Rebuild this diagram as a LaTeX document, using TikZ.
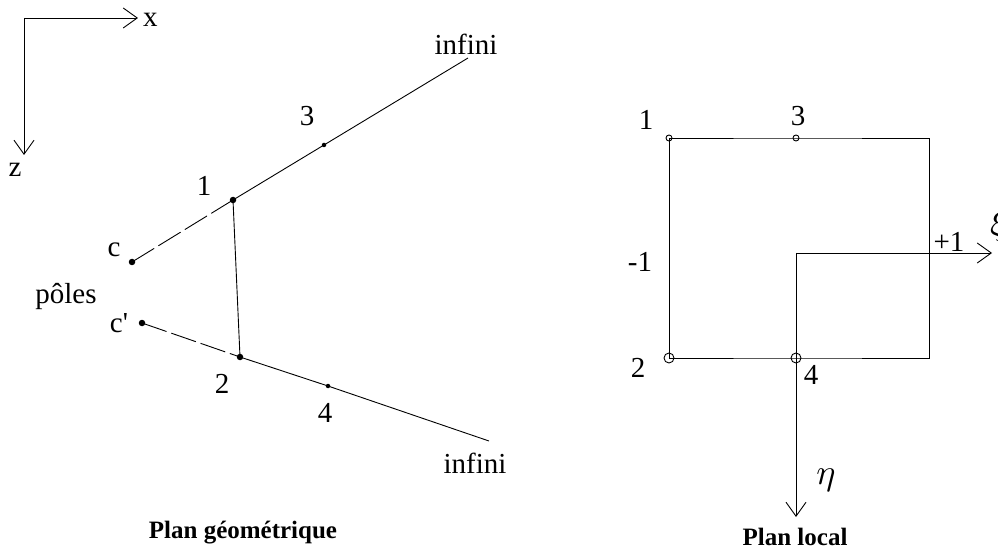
\documentclass[tikz,border=0pt]{standalone}
\usepackage{fontspec}
\setmainfont{Liberation Serif}
\usetikzlibrary{arrows.meta}
\begin{document}
\begin{tikzpicture}[x=1pt,y=-1pt,
  ln/.style={line width=0.9pt},
  dln/.style={line width=0.9pt,dash pattern=on 26pt off 5pt},
  ax/.style={line width=0.9pt,-{Straight Barb[length=14pt,width=20pt,line width=0.9pt]}},
  lbl/.style={font=\fontsize{29}{30}\selectfont,inner sep=0pt},
  ttl/.style={font=\fontsize{25}{26}\selectfont\bfseries,inner sep=0pt,anchor=base},
  bigdot/.style={circle,fill,inner sep=0pt,minimum size=6.5pt},
  smalldot/.style={circle,fill,inner sep=0pt,minimum size=4.5pt},
  ringS/.style={circle,draw,line width=0.9pt,inner sep=0pt,minimum size=6pt},
  ringL/.style={circle,draw,line width=0.9pt,inner sep=0pt,minimum size=10pt}]
\useasboundingbox (0,0) rectangle (998,553);
% --- axes x, z
\coordinate (o) at (24,18);
\coordinate (xe) at (138,18);
\coordinate (ze) at (24,155);
\draw[ax] (o) -- (xe);
\draw[ax] (o) -- (ze);
\node[lbl,anchor=west] (xl) at (143,20) {x};
\node[lbl] (zl) at (15,170) {z};
% --- geometric plane
\node[bigdot] (c) at (132,262) {};
\node[bigdot] (cp) at (142,323) {};
\node[bigdot] (p1) at (233,200) {};
\node[bigdot] (p2) at (240,357) {};
\node[smalldot] (p3) at (324,145) {};
\node[smalldot] (p4) at (328,386) {};
\coordinate (inf1) at (468,58);
\coordinate (inf2) at (489,441);
\draw[dln] (c.center) -- (p1.center);
\draw[dln] (cp.center) -- (p2.center);
\draw[ln] (p1.center) -- (p3.center) -- (inf1);
\draw[ln] (p2.center) -- (p4.center) -- (inf2);
\draw[ln] (p1.center) -- (p2.center);
\node[lbl] (l1) at (204,186) {1};
\node[lbl] (l2) at (222,384) {2};
\node[lbl] (l3) at (307,116) {3};
\node[lbl] (l4) at (325,413) {4};
\node[lbl] (lc) at (114,250) {c};
\node[lbl] (lcp) at (119,323) {c\textquotesingle};
\node[lbl,anchor=base] (lp) at (66,303) {pôles};
\node[lbl,anchor=base] (li1) at (466,55) {infini};
\node[lbl,anchor=base] (li2) at (475,473) {infini};
\node[ttl] (t1) at (243,538) {Plan géométrique};
% --- local plane
\coordinate (q1) at (669,138);
\coordinate (q3) at (796,138);
\coordinate (qtr) at (929,138);
\coordinate (qbr) at (929,358);
\coordinate (q4) at (796,358);
\coordinate (q2) at (669,358);
\draw[ln] (q1) -- (q3) -- (qtr) -- (qbr) -- (q4) -- (q2) -- cycle;
\node[ringS] (r1) at (q1) {};
\node[ringS] (r3) at (q3) {};
\node[ringL] (r2) at (q2) {};
\node[ringL] (r4) at (q4) {};
\coordinate (oc) at (796,253);
\coordinate (xie) at (992,253);
\coordinate (ete) at (796,517);
\draw[ax] (oc) -- (xie);
\draw[ax] (oc) -- (ete);
\node[lbl] (m1) at (646,120) {1};
\node[lbl] (m3) at (798,116) {3};
\node[lbl] (m2) at (638,368) {2};
\node[lbl] (m4) at (811,375) {4};
\node[lbl] (mm1) at (640,262) {-1};
\node[lbl] (mp1) at (949,242) {+1};
\node[inner sep=0pt,anchor=west] (xil) at (990,226) {\scalebox{3.6}{$\xi$}};
\node[inner sep=0pt] (etl) at (826,480) {\scalebox{3.6}{$\eta$}};
\node[ttl] (t2) at (795,545) {Plan local};
\end{tikzpicture}
\end{document}
